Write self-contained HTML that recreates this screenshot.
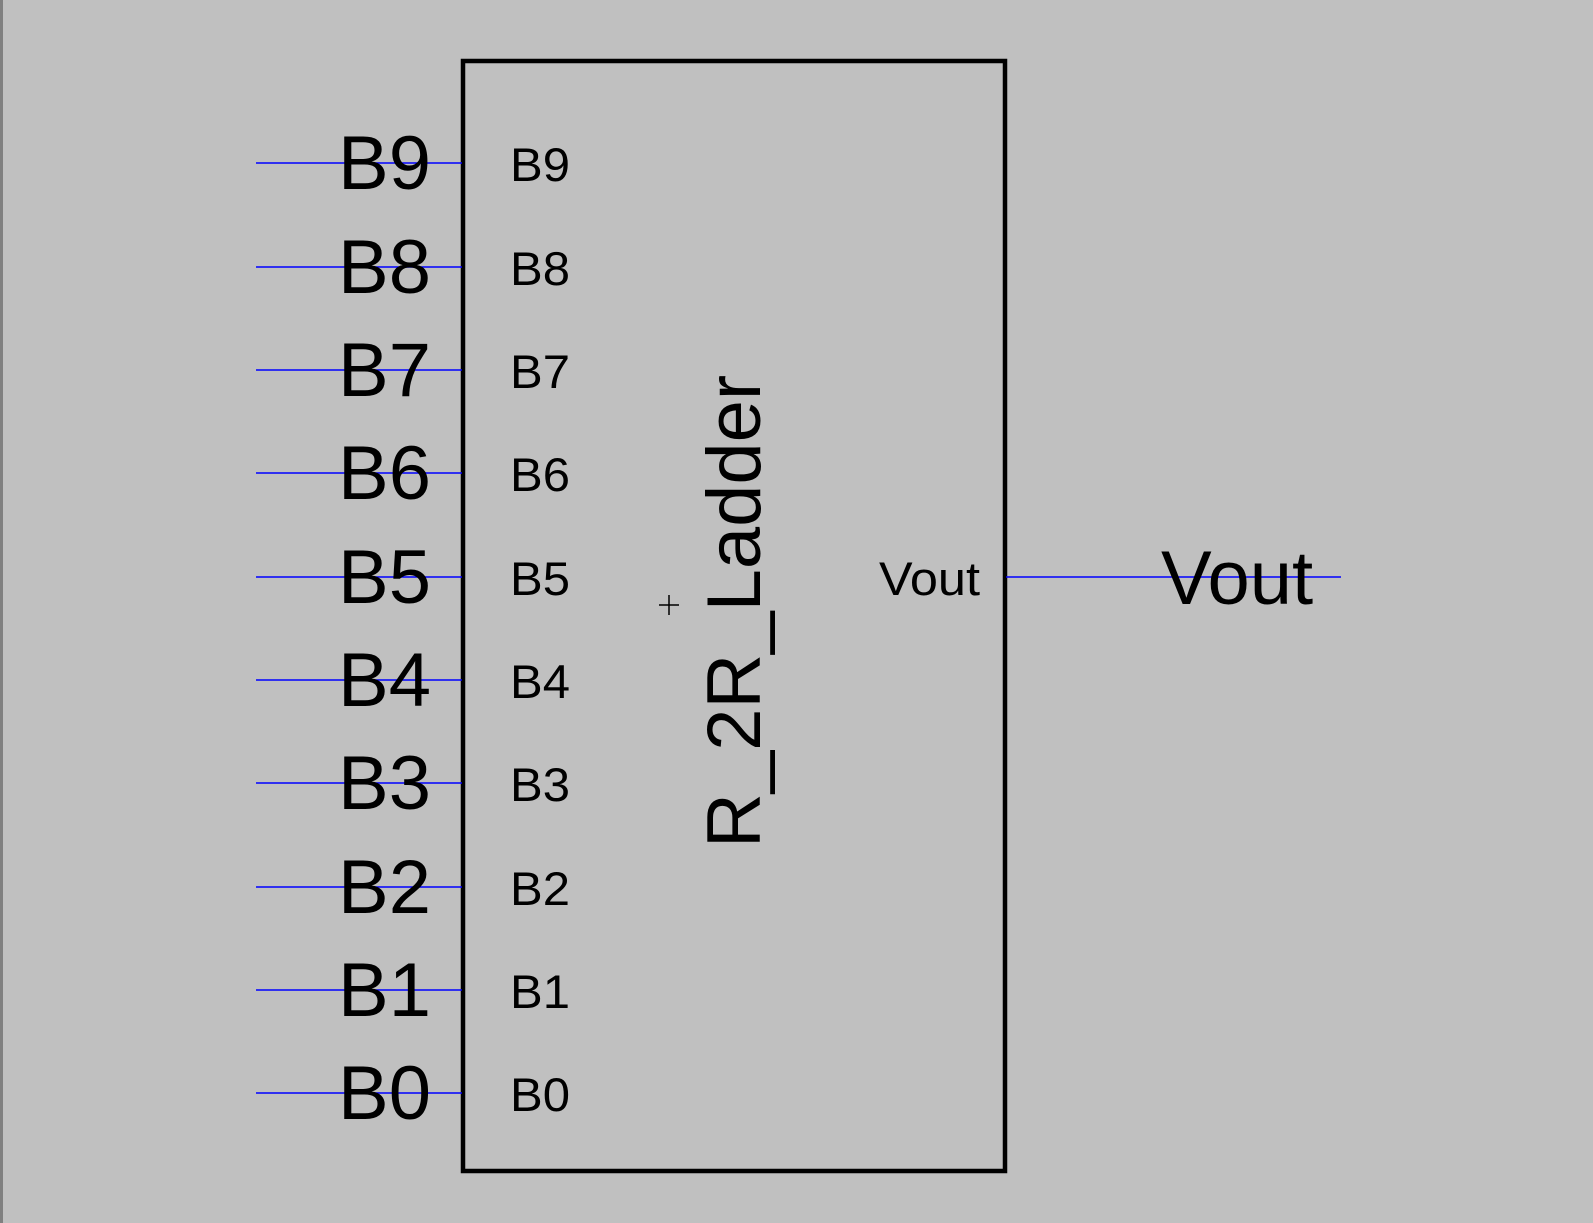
<!DOCTYPE html>
<html><head><style>
html,body{margin:0;padding:0;background:#c0c0c0;}
svg{display:block;}
text{font-family:"Liberation Sans",Arial,sans-serif;fill:#000;}
</style></head><body>
<svg width="1593" height="1223" viewBox="0 0 1593 1223" xmlns="http://www.w3.org/2000/svg">
<rect x="0" y="0" width="1593" height="1223" fill="#c0c0c0"/>
<rect x="0" y="0" width="3" height="1223" fill="#808080"/>
<rect x="463" y="61" width="542" height="1110" fill="none" stroke="#000" stroke-width="4.5"/>
<g stroke="#0000ff" stroke-width="1.5">
<line x1="256" y1="163" x2="462" y2="163"/>
<line x1="256" y1="267" x2="462" y2="267"/>
<line x1="256" y1="370" x2="462" y2="370"/>
<line x1="256" y1="473" x2="462" y2="473"/>
<line x1="256" y1="577" x2="462" y2="577"/>
<line x1="256" y1="680" x2="462" y2="680"/>
<line x1="256" y1="783" x2="462" y2="783"/>
<line x1="256" y1="887" x2="462" y2="887"/>
<line x1="256" y1="990" x2="462" y2="990"/>
<line x1="256" y1="1093" x2="462" y2="1093"/>
<line x1="1006" y1="577" x2="1341" y2="577"/>
</g>
<g font-size="76">
<text x="338" y="189">B9</text>
<text x="338" y="293">B8</text>
<text x="338" y="396">B7</text>
<text x="338" y="499">B6</text>
<text x="338" y="603">B5</text>
<text x="338" y="706">B4</text>
<text x="338" y="809">B3</text>
<text x="338" y="913">B2</text>
<text x="338" y="1016">B1</text>
<text x="338" y="1119">B0</text>
<text x="1161" y="604">Vout</text>
</g>
<g font-size="47">
<text x="510" y="181" textLength="60" lengthAdjust="spacingAndGlyphs">B9</text>
<text x="510" y="285" textLength="60" lengthAdjust="spacingAndGlyphs">B8</text>
<text x="510" y="388" textLength="60" lengthAdjust="spacingAndGlyphs">B7</text>
<text x="510" y="491" textLength="60" lengthAdjust="spacingAndGlyphs">B6</text>
<text x="510" y="595" textLength="60" lengthAdjust="spacingAndGlyphs">B5</text>
<text x="510" y="698" textLength="60" lengthAdjust="spacingAndGlyphs">B4</text>
<text x="510" y="801" textLength="60" lengthAdjust="spacingAndGlyphs">B3</text>
<text x="510" y="905" textLength="60" lengthAdjust="spacingAndGlyphs">B2</text>
<text x="510" y="1008" textLength="60" lengthAdjust="spacingAndGlyphs">B1</text>
<text x="510" y="1111" textLength="60" lengthAdjust="spacingAndGlyphs">B0</text>
<text x="879" y="595" textLength="101" lengthAdjust="spacingAndGlyphs">Vout</text>
</g>
<text x="0" y="0" font-size="76" transform="translate(760,848) rotate(-90)">R_2R_Ladder</text>
<g stroke="#000" stroke-width="1.5">
<line x1="659" y1="605" x2="679" y2="605"/>
<line x1="669" y1="595" x2="669" y2="615"/>
</g>
</svg>
</body></html>
